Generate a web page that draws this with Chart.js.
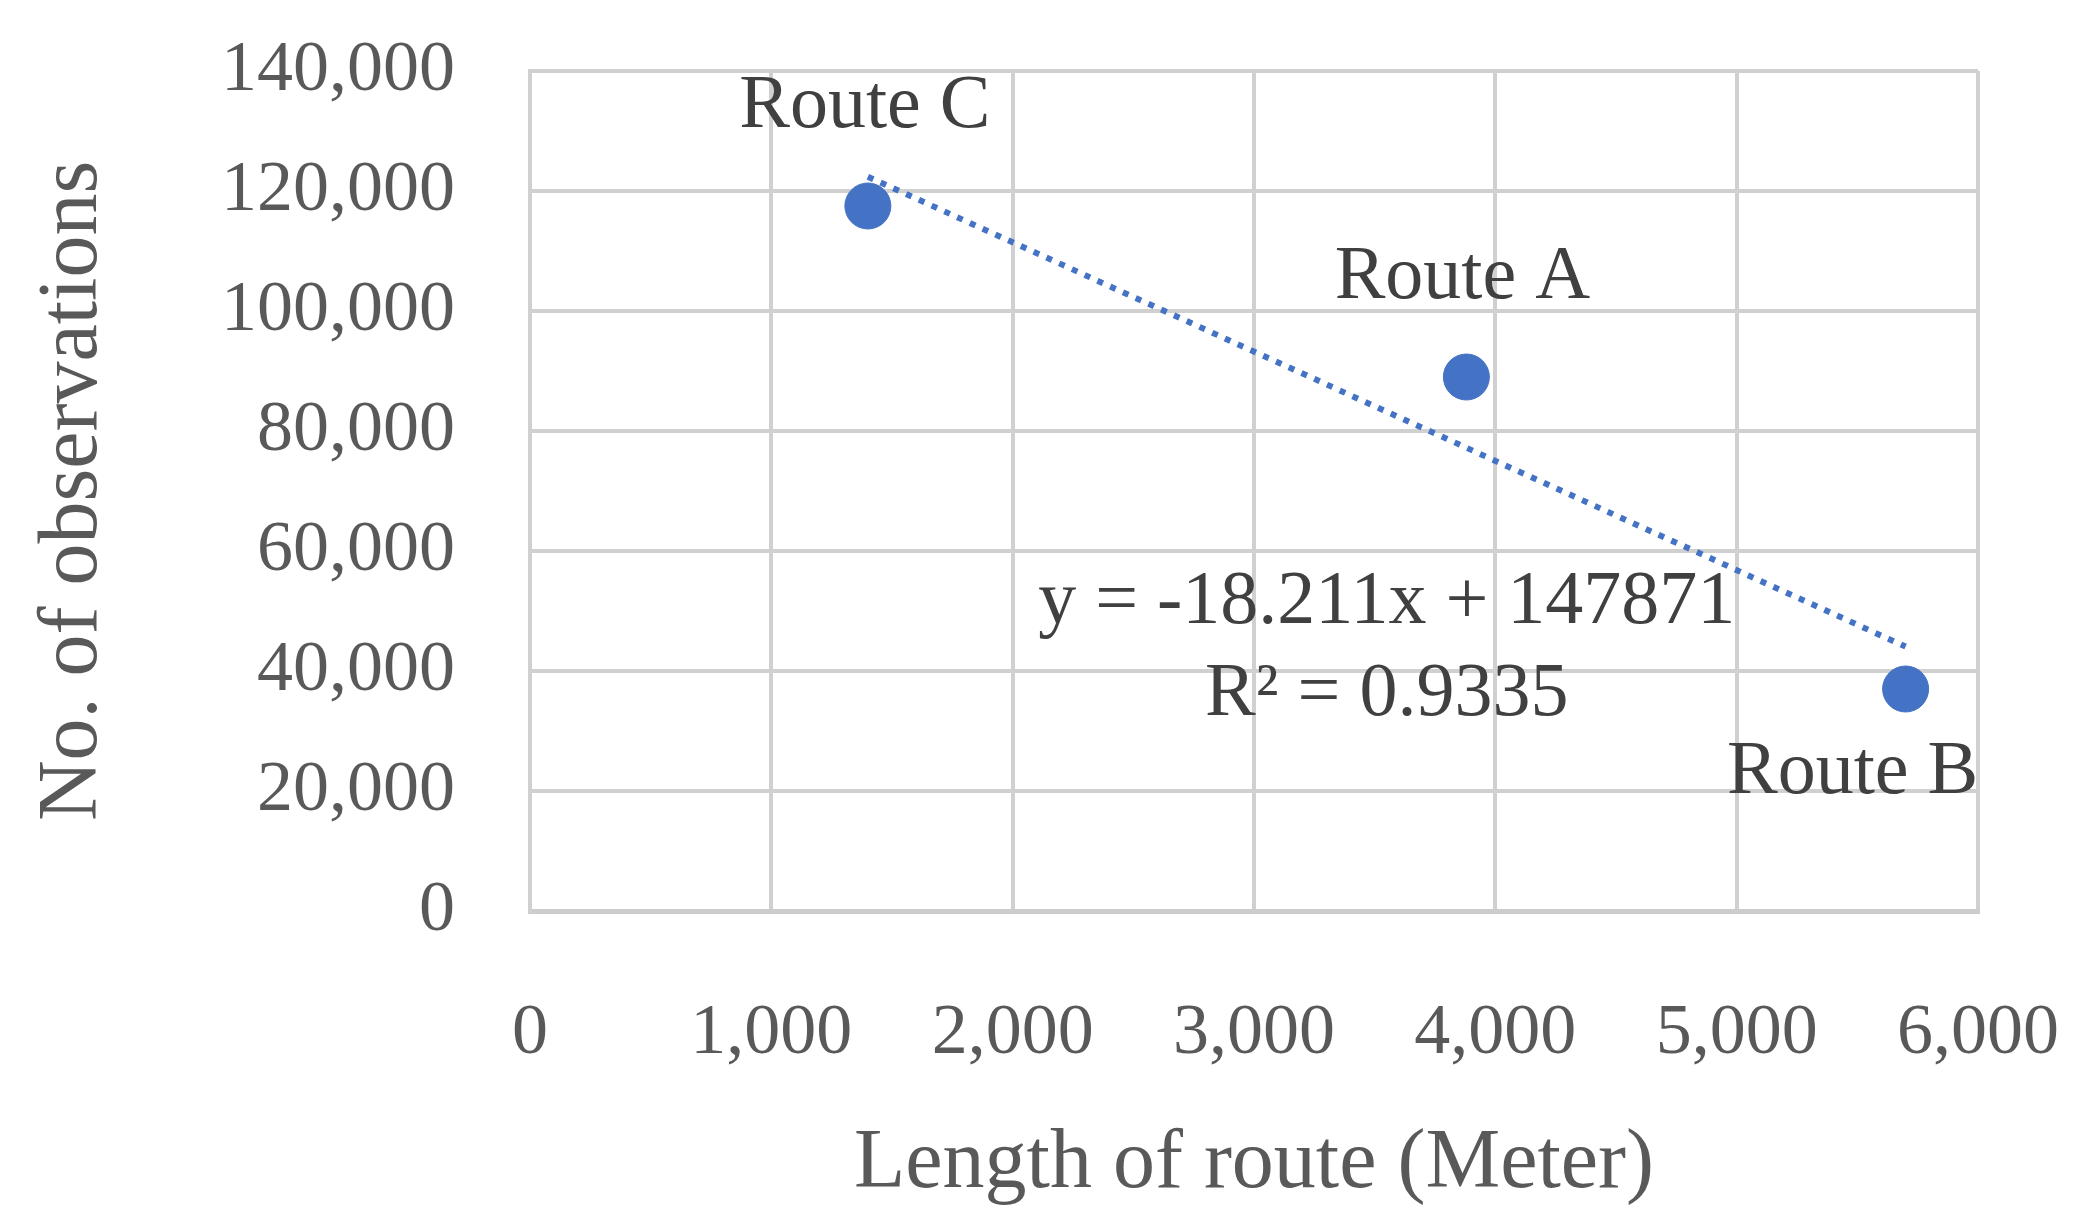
<!DOCTYPE html>
<html>
<head>
<meta charset="utf-8">
<script src="https://cdn.jsdelivr.net/npm/chart.js@4/dist/chart.umd.min.js"></script>
<style>
html, body { margin: 0; padding: 0; background: #fff; }
#wrap { width: 2092px; height: 1219px; }
</style>
</head>
<body>
<div id="wrap"><canvas id="chart"></canvas></div>
<script>
// data
const routeNames = ['Route C', 'Route A', 'Route B'];
const routeLength = [1400, 3880, 5700];
const observations = [117500, 89000, 37000];
// trendline endpoints (y = -18.211x + 147871)
const trendX = [1400, 5700];
const trendY = [122376, 44068];
const xTicks = [0, 1000, 2000, 3000, 4000, 5000, 6000];
const yTicks = [0, 20000, 40000, 60000, 80000, 100000, 120000, 140000];

const GREY = '#595959';
const FONT = "'Liberation Serif', 'DejaVu Serif', serif";

// labels next to points + trendline equation
const textPlugin = {
    id: 'texts',
    afterDatasetsDraw(chart) {
        const ctx = chart.ctx;
        const xs = chart.scales.x, ys = chart.scales.y;
        ctx.save();
        ctx.fillStyle = '#404040';
        ctx.font = '76px ' + FONT;
        ctx.textAlign = 'center';
        ctx.textBaseline = 'middle';
        const offs = [[-3, -99], [-4, -99], [-53, 84]];
        routeNames.forEach((n, i) => {
            const px = xs.getPixelForValue(routeLength[i]);
            const py = ys.getPixelForValue(observations[i]);
            ctx.fillText(n, px + offs[i][0], py + offs[i][1]);
        });
        ctx.fillText('y = -18.211x + 147871', xs.getPixelForValue(3550), ys.getPixelForValue(51300));
        ctx.fillText('R² = 0.9335', xs.getPixelForValue(3550), ys.getPixelForValue(36000));
        ctx.restore();
    }
};

new Chart(document.getElementById('chart'), {
    type: 'scatter',
    data: {
        datasets: [{
            data: routeLength.map((x, i) => ({ x: x, y: observations[i] })),
            backgroundColor: '#4472C4',
            borderColor: '#4472C4',
            pointRadius: 23,
            pointHoverRadius: 23
        }, {
            type: 'line',
            data: trendX.map((x, i) => ({ x: x, y: trendY[i] })),
            borderColor: '#4472C4',
            borderWidth: 6,
            borderDash: [6, 8],
            pointRadius: 0,
            fill: false
        }]
    },
    options: {
        responsive: true,
        maintainAspectRatio: false,
        animation: false,
        layout: { padding: { top: 71, right: 114, bottom: 0, left: 20 } },
        plugins: { legend: { display: false }, tooltip: { enabled: false } },
        scales: {
            x: {
                type: 'linear', min: 0, max: 6000,
                afterBuildTicks: s => { s.ticks = xTicks.map(v => ({ value: v })); },
                afterFit: s => { s.height = 308; s.paddingLeft = 0; s.paddingRight = 0; },
                grid: { color: '#d0d0d0', lineWidth: 4, drawTicks: false },
                border: { color: '#cccccc', width: 5 },
                ticks: {
                    color: GREY, padding: 80, maxRotation: 0,
                    font: { family: FONT, size: 72 },
                    callback: v => v.toLocaleString('en-US')
                },
                title: {
                    display: true, text: 'Length of route (Meter)', color: GREY,
                    font: { family: FONT, size: 84 }, padding: { top: 40 }
                }
            },
            y: {
                type: 'linear', min: 0, max: 140000,
                afterBuildTicks: s => { s.ticks = yTicks.map(v => ({ value: v })); },
                afterFit: s => { s.width = 510; s.paddingTop = 0; s.paddingBottom = 0; },
                grid: { color: '#d0d0d0', lineWidth: 4, drawTicks: false },
                border: { color: '#d0d0d0', width: 4 },
                ticks: {
                    color: GREY, padding: 75,
                    font: { family: FONT, size: 72 },
                    callback: v => v.toLocaleString('en-US')
                },
                title: {
                    display: true, text: 'No. of observations', color: GREY,
                    font: { family: FONT, size: 84 }, padding: { bottom: 0 }
                }
            }
        }
    },
    plugins: [textPlugin]
});
</script>
</body>
</html>
